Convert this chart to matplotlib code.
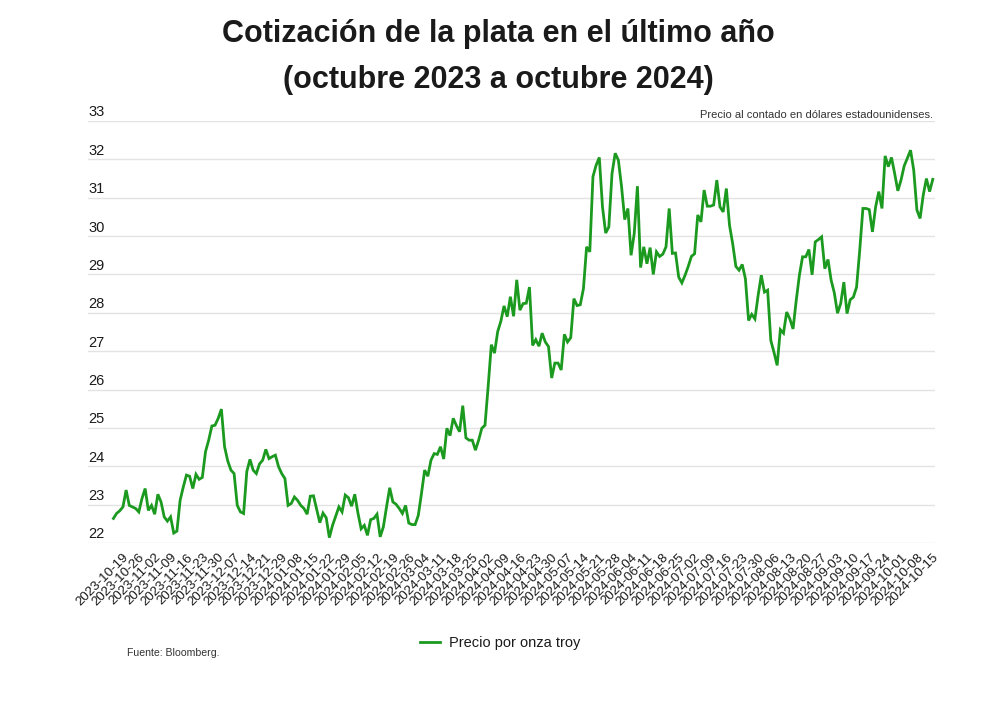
import pandas as pd
import matplotlib
matplotlib.use("Agg")
import matplotlib.pyplot as plt
import matplotlib.transforms as mtransforms

# spot silver price, USD per troy ounce
prices = [
    22.64, 22.77, 22.84, 22.94, 23.38, 22.98, 22.94, 22.90, 22.81, 23.16,
    23.42, 22.85, 22.98, 22.75, 23.27, 23.07, 22.68, 22.57, 22.68, 22.26,
    22.31, 23.11, 23.46, 23.77, 23.74, 23.42, 23.79, 23.66, 23.71, 24.38,
    24.68, 25.05, 25.07, 25.25, 25.49, 24.51, 24.14, 23.90, 23.81, 22.98,
    22.81, 22.77, 23.86, 24.18, 23.90, 23.81, 24.06, 24.16, 24.44, 24.20,
    24.25, 24.29, 23.99, 23.81, 23.68, 22.98, 23.03, 23.20, 23.11, 22.98,
    22.90, 22.75, 23.22, 23.23, 22.88, 22.53, 22.78, 22.66, 22.14, 22.46,
    22.70, 22.94, 22.81, 23.25, 23.18, 22.96, 23.27, 22.78, 22.37, 22.46,
    22.20, 22.61, 22.64, 22.75, 22.16, 22.42, 22.94, 23.44, 23.07, 23.01,
    22.90, 22.77, 22.98, 22.52, 22.48, 22.48, 22.72, 23.29, 23.90, 23.74,
    24.16, 24.33, 24.31, 24.51, 24.19, 24.99, 24.80, 25.25, 25.06, 24.90,
    25.58, 24.74, 24.68, 24.68, 24.42, 24.68, 24.99, 25.07, 26.08, 27.17,
    26.95, 27.51, 27.78, 28.18, 27.90, 28.42, 27.91, 28.86, 28.07, 28.24,
    28.25, 28.67, 27.15, 27.30, 27.13, 27.47, 27.24, 27.12, 26.30, 26.69,
    26.69, 26.51, 27.44, 27.24, 27.35, 28.37, 28.19, 28.21, 28.63, 29.72,
    29.59, 31.55, 31.85, 32.05, 30.76, 30.08, 30.24, 31.63, 32.16, 31.98,
    31.29, 30.43, 30.72, 29.50, 30.07, 31.30, 29.18, 29.72, 29.28, 29.70,
    29.00, 29.59, 29.47, 29.53, 29.72, 30.72, 29.55, 29.56, 28.93, 28.78,
    28.98, 29.21, 29.47, 29.54, 30.55, 30.37, 31.20, 30.78, 30.78, 30.81,
    31.46, 30.76, 30.63, 31.24, 30.28, 29.80, 29.21, 29.11, 29.26, 28.89,
    27.80, 27.96, 27.84, 28.45, 28.98, 28.54, 28.59, 27.28, 26.97, 26.63,
    27.56, 27.47, 28.02, 27.84, 27.58, 28.32, 28.98, 29.46, 29.46, 29.65,
    28.99, 29.85, 29.91, 29.98, 29.15, 29.39, 28.85, 28.52, 27.99, 28.24,
    28.80, 27.98, 28.34, 28.41, 28.67, 29.63, 30.72, 30.72, 30.69, 30.11,
    30.76, 31.16, 30.72, 32.09, 31.81, 32.05, 31.63, 31.18, 31.46, 31.83,
    32.03, 32.24, 31.72, 30.68, 30.46, 31.07, 31.50, 31.16, 31.48,
]

# trading days (weekdays without the market holidays of the period)
holidays = ["2023-12-25", "2024-01-01", "2024-03-29"]
dates = [d for d in pd.bdate_range("2023-10-16", "2024-10-15")
         if d.strftime("%Y-%m-%d") not in holidays]
date_labels = [d.strftime("%Y-%m-%d") for d in dates]

y_ticks = list(range(22, 34))
first_tick = 3
tick_step = 5

title = "Cotización de la plata en el último año\n(octubre 2023 a octubre 2024)"
subtitle = "Precio al contado en dólares estadounidenses."
series_name = "Precio por onza troy"
source = "Fuente: Bloomberg."

green = "#1b9a1f"
text_color = "#1a1a1a"
plt.rcParams["font.family"] = ["Liberation Sans", "DejaVu Sans"]

W, H = 1000, 722
fig = plt.figure(figsize=(W / 100, H / 100), dpi=100)
ax = fig.add_axes([88 / W, 1 - 543 / H, (935 - 88) / W, (543 - 121) / H])

x = list(range(len(prices)))
ax.plot(x, prices, color=green, linewidth=2.0, label=series_name,
        solid_joinstyle="miter", zorder=3)

ax.set_ylim(y_ticks[0], y_ticks[-1])
ax.set_xlim(-8.0, len(prices) - 1 + 0.7)
ax.set_yticks(y_ticks)
ax.yaxis.grid(True, color="#e3e3e3", linewidth=1.0)
ax.tick_params(axis="y", length=0, labelleft=False)
for s in ax.spines.values():
    s.set_visible(False)

# y labels sit above their gridline, flush left
ytrans = mtransforms.blended_transform_factory(ax.transAxes, ax.transData)
ytrans = ytrans + mtransforms.ScaledTranslation(0, 1.5 / 100, fig.dpi_scale_trans)
for v in y_ticks:
    ax.text(0, v, str(v), transform=ytrans, ha="left", va="bottom",
            fontsize=10.5, color=text_color)

tick_idx = list(range(first_tick, len(prices), tick_step))
ax.set_xticks(tick_idx)
ax.set_xticklabels([date_labels[i] for i in tick_idx], rotation=45,
                   ha="right", va="top", rotation_mode="anchor",
                   fontsize=9.6, color=text_color)
ax.tick_params(axis="x", length=0, pad=6)

fig.text(0.498, 1 - 42 / H, title.split("\n")[0], ha="center", va="baseline",
         fontsize=22, fontweight="bold", color=text_color)
fig.text(0.498, 1 - 88 / H, title.split("\n")[1], ha="center", va="baseline",
         fontsize=22, fontweight="bold", color=text_color)
fig.text(933 / W, 1 - 115 / H, subtitle, ha="right", va="center",
         fontsize=8, color="#333333")
fig.text(127 / W, 1 - 653 / H, source, ha="left", va="center",
         fontsize=7.6, color="#333333")

fig.legend(loc="center", bbox_to_anchor=(0.5, 1 - 643 / H), frameon=False,
           handlelength=1.4, handletextpad=0.6, fontsize=10.5,
           labelcolor=text_color)

fig.savefig("out.png", dpi=100, facecolor="white")
